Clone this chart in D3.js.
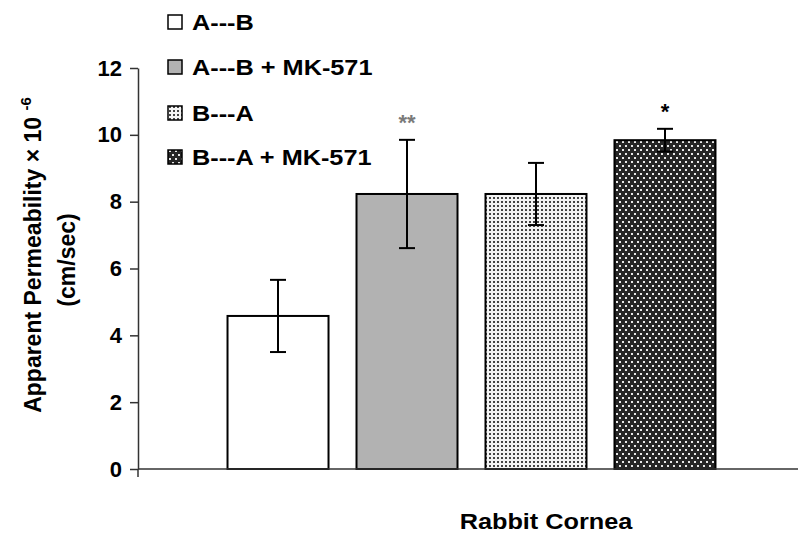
<!DOCTYPE html>
<html>
<head>
<meta charset="utf-8">
<script src="https://cdn.jsdelivr.net/npm/d3@7"></script>
<style>
  body { margin: 0; background: #fff; }
  svg text { font-family: "Liberation Sans", Arial, sans-serif; font-weight: bold; }
</style>
</head>
<body>
<div id="chart"></div>
<script>
// data
const categories = ["Rabbit Cornea"];
const series = ["A---B", "A---B + MK-571", "B---A", "B---A + MK-571"];
const values = [4.58, 8.23, 8.23, 9.84];
const errors = [1.08, 1.62, 0.93, 0.34];
const marks = ["", "**", "", "*"];
const yTicks = [0, 2, 4, 6, 8, 10, 12];

const width = 798, height = 535;
const plot = { left: 138, right: 805, top: 68, bottom: 469 };
const stretch = 1.15; // text in the picture is a bit wide

const svg = d3.select("#chart").append("svg")
    .attr("width", width)
    .attr("height", height);

// fill patterns
const defs = svg.append("defs");
const light = defs.append("pattern")
    .attr("id", "light").attr("patternUnits", "userSpaceOnUse")
    .attr("width", 4).attr("height", 4);
light.append("rect").attr("width", 4).attr("height", 4).attr("fill", "#f4f4f4");
light.append("rect").attr("x", 1).attr("y", 1).attr("width", 2).attr("height", 2).attr("fill", "#444");

const dark = defs.append("pattern")
    .attr("id", "dark").attr("patternUnits", "userSpaceOnUse")
    .attr("width", 6).attr("height", 8);
dark.append("rect").attr("width", 6).attr("height", 8).attr("fill", "#262626");
dark.append("rect").attr("x", 1).attr("y", 1).attr("width", 2).attr("height", 2).attr("fill", "#e8e8e8");
dark.append("rect").attr("x", 4).attr("y", 5).attr("width", 2).attr("height", 2).attr("fill", "#e8e8e8");

const fills = ["#ffffff", "#b2b2b2", "url(#light)", "url(#dark)"];
const markColors = ["#000", "#7a7a7a", "#000", "#000"];

const y = d3.scaleLinear().domain([0, 12]).range([plot.bottom, plot.top]);
const x0 = d3.scaleBand().domain(categories).range([plot.left, plot.right]).padding(0);
const x1 = d3.scaleBand().domain(series).range([0, x0.bandwidth()])
    .paddingInner(0.217).paddingOuter(0.694);

const rows = series.map((s, i) => ({ s, v: values[i], e: errors[i], m: marks[i], i }));

// bars
const g = svg.append("g");
g.selectAll(".bar")
    .data(rows)
    .enter()
    .append("rect")
    .attr("class", "bar")
    .attr("x", d => x0(categories[0]) + x1(d.s))
    .attr("y", d => y(d.v))
    .attr("width", x1.bandwidth())
    .attr("height", d => y(0) - y(d.v))
    .attr("fill", (d) => fills[d.i])
    .attr("stroke", "#000")
    .attr("stroke-width", 2);

// error bars
const cx = d => x0(categories[0]) + x1(d.s) + x1.bandwidth() / 2;
const err = g.selectAll(".err").data(rows).enter().append("g").attr("class", "err")
    .attr("stroke", "#000").attr("stroke-width", 2);
err.append("line")
    .attr("x1", cx).attr("x2", cx)
    .attr("y1", d => y(d.v + d.e)).attr("y2", d => y(d.v - d.e));
err.append("line")
    .attr("x1", d => cx(d) - 8).attr("x2", d => cx(d) + 8)
    .attr("y1", d => y(d.v + d.e)).attr("y2", d => y(d.v + d.e));
err.append("line")
    .attr("x1", d => cx(d) - 8).attr("x2", d => cx(d) + 8)
    .attr("y1", d => y(d.v - d.e)).attr("y2", d => y(d.v - d.e));

// significance stars
g.selectAll(".star").data(rows.filter(d => d.m)).enter().append("text")
    .attr("x", cx)
    .attr("y", d => y(d.v + d.e) - 10)
    .attr("text-anchor", "middle")
    .attr("font-size", 22)
    .attr("fill", d => markColors[d.i])
    .text(d => d.m);

// x axis
svg.append("line")
    .attr("x1", plot.left).attr("x2", plot.right)
    .attr("y1", plot.bottom).attr("y2", plot.bottom)
    .attr("stroke", "#333").attr("stroke-width", 1.5);
svg.append("line")
    .attr("x1", plot.left).attr("x2", plot.left)
    .attr("y1", plot.bottom).attr("y2", plot.bottom + 8)
    .attr("stroke", "#333").attr("stroke-width", 1.5);

// y axis
const yAxis = svg.append("g")
    .attr("transform", `translate(${plot.left},0)`)
    .call(d3.axisLeft(y).tickValues(yTicks).tickSize(8).tickPadding(8).tickSizeOuter(0));
yAxis.select(".domain").attr("stroke", "#333").attr("stroke-width", 1.5);
yAxis.selectAll(".tick line").attr("stroke", "#333").attr("stroke-width", 1.5);
yAxis.selectAll("text")
    .attr("font-size", 22)
    .attr("font-weight", "bold")
    .attr("font-family", "Liberation Sans, Arial, sans-serif")
    .attr("fill", "#000");

// y axis title
const yt = svg.append("text")
    .attr("transform", "translate(41,255) rotate(-90)")
    .attr("text-anchor", "middle")
    .attr("font-size", 23)
    .attr("fill", "#000");
yt.append("tspan").text("Apparent Permeability \u00d7 10 ");
yt.append("tspan").attr("font-size", 15).attr("dy", -10).text("-6");
svg.append("text")
    .attr("transform", "translate(75,260) rotate(-90)")
    .attr("text-anchor", "middle")
    .attr("font-size", 23)
    .attr("fill", "#000")
    .text("(cm/sec)");

// x axis title
svg.append("g")
    .attr("transform", `translate(546,529) scale(${stretch},1)`)
    .append("text")
    .attr("text-anchor", "middle")
    .attr("font-size", 22)
    .attr("fill", "#000")
    .text("Rabbit Cornea");

// legend
const legendY = [22, 67, 113, 157];
const lg = svg.selectAll(".leg").data(rows).enter().append("g")
    .attr("class", "leg")
    .attr("transform", d => `translate(168,${legendY[d.i]})`);
lg.append("rect")
    .attr("x", 0).attr("y", -7).attr("width", 14).attr("height", 14)
    .attr("fill", d => fills[d.i])
    .attr("stroke", "#000").attr("stroke-width", 1.5);
lg.append("g")
    .attr("transform", `translate(24,8) scale(${stretch},1)`)
    .append("text")
    .attr("font-size", 22)
    .attr("fill", "#000")
    .text(d => d.s);
</script>
</body>
</html>
